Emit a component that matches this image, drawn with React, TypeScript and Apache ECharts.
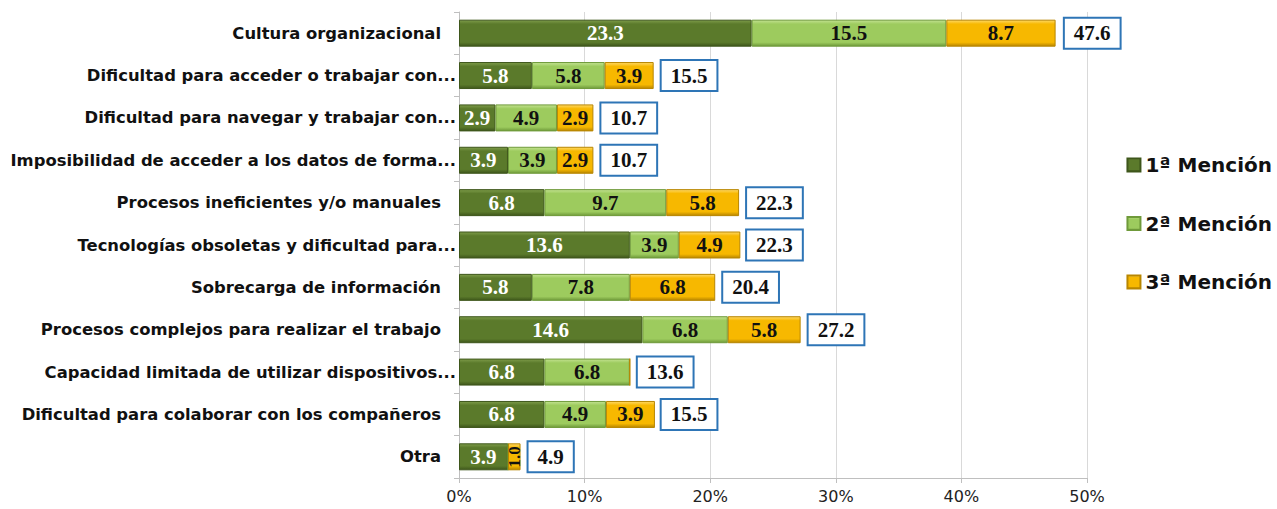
import React, { useEffect, useRef } from "react";
import * as echarts from "echarts";

const categories = [
  "Cultura organizacional",
  "Dificultad para acceder o trabajar con...",
  "Dificultad para navegar y trabajar con...",
  "Imposibilidad de acceder a los datos de forma...",
  "Procesos ineficientes y/o manuales",
  "Tecnologías obsoletas y dificultad para...",
  "Sobrecarga de información",
  "Procesos complejos para realizar el trabajo",
  "Capacidad limitada de utilizar dispositivos...",
  "Dificultad para colaborar con los compañeros",
  "Otra",
];
const mencion1 = [23.3, 5.8, 2.9, 3.9, 6.8, 13.6, 5.8, 14.6, 6.8, 6.8, 3.9];
const mencion2 = [15.5, 5.8, 4.9, 3.9, 9.7, 3.9, 7.8, 6.8, 6.8, 4.9, 0];
const mencion3 = [8.7, 3.9, 2.9, 2.9, 5.8, 4.9, 6.8, 5.8, 0, 3.9, 1.0];
const totals = [47.6, 15.5, 10.7, 10.7, 22.3, 22.3, 20.4, 27.2, 13.6, 15.5, 4.9];
const xTicks = [0, 10, 20, 30, 40, 50];

const grad = (light: string, base: string, dark: string) =>
  new echarts.graphic.LinearGradient(0, 0, 0, 1, [
    { offset: 0, color: light },
    { offset: 0.15, color: base },
    { offset: 0.85, color: base },
    { offset: 1, color: dark },
  ]);

export default function App() {
  const ref = useRef<HTMLDivElement>(null);
  useEffect(() => {
    document.body.style.margin = "0";
    if (!ref.current) return;
    const chart = echarts.init(ref.current, undefined, { renderer: "svg" });
    const serifLabel = {
      fontFamily: "Liberation Serif",
      fontWeight: "bold" as const,
      fontSize: 21,
    };
    const mk = (
      name: string,
      data: number[],
      colors: [string, string, string],
      textColor: string
    ) => ({
      name,
      type: "bar",
      stack: "s",
      barWidth: 27,
      barGap: "-100%",
      data: data.map((v, i) => {
        const item: any = { value: v };
        if (name === "3ª Mención" && categories[i] === "Otra") {
          item.label = { rotate: 90, fontSize: 17 };
        }
        return item;
      }),
      itemStyle: {
        color: grad(colors[0], colors[1], colors[2]),
        borderColor: colors[2],
        borderWidth: 1,
      },
      label: {
        show: true,
        position: "inside",
        color: textColor,
        ...serifLabel,
        formatter: (p: any) => (p.value > 0 ? p.value.toFixed(1) : ""),
      },
    });
    chart.setOption({
      animation: false,
      grid: { left: 459, right: 190, top: 12, bottom: 31, containLabel: false },
      legend: {
        data: ["1ª Mención", "2ª Mención", "3ª Mención"],
        orient: "vertical",
        right: 0,
        top: 150,
        itemGap: 38.5,
        itemWidth: 13,
        itemHeight: 13,
        icon: "rect",
        textStyle: {
          fontFamily: "DejaVu Sans",
          fontWeight: "bold",
          fontSize: 20,
          color: "#111",
        },
      },
      xAxis: {
        type: "value",
        min: 0,
        max: 50,
        interval: 10,
        axisLabel: {
          formatter: (v: number) => (xTicks.includes(v) ? v + "%" : ""),
          fontFamily: "DejaVu Sans",
          fontSize: 16,
          color: "#222",
          margin: 10,
        },
        axisLine: { show: true, lineStyle: { color: "#bfbfbf" } },
        axisTick: { show: true, length: 5, lineStyle: { color: "#bfbfbf" } },
        splitLine: { show: true, lineStyle: { color: "#d9d9d9" } },
      },
      yAxis: {
        type: "category",
        inverse: true,
        data: categories,
        axisLine: { show: true, lineStyle: { color: "#bfbfbf" } },
        axisTick: { show: true, length: 5, inside: false, lineStyle: { color: "#bfbfbf" } },
        axisLabel: {
          margin: 3,
          formatter: (v: string) => (v.endsWith("...") ? `{e|${v}}` : `{n|${v}}`),
          rich: {
            e: {
              fontFamily: "DejaVu Sans",
              fontWeight: "bold",
              fontSize: 16.4,
              color: "#111",
            },
            n: {
              fontFamily: "DejaVu Sans",
              fontWeight: "bold",
              fontSize: 16.4,
              color: "#111",
              padding: [0, 15, 0, 0],
            },
          },
        },
      },
      series: [
        mk("1ª Mención", mencion1, ["#7e9c4a", "#5b7a2b", "#3e561b"], "#ffffff"),
        mk("2ª Mención", mencion2, ["#c3e291", "#9dcb5e", "#6f9a3a"], "#111111"),
        mk("3ª Mención", mencion3, ["#ffd966", "#f7b800", "#b88600"], "#111111"),
        {
          name: "Total",
          type: "bar",
          barWidth: 27,
          barGap: "-100%",
          z: 1,
          data: totals,
          itemStyle: { color: "rgba(0,0,0,0)" },
          label: {
            show: true,
            position: "right",
            distance: 8,
            color: "#111",
            ...serifLabel,
            backgroundColor: "#ffffff",
            borderColor: "#2e75b6",
            borderWidth: 2,
            padding: [5, 9, 3, 9],
            formatter: (p: any) => p.value.toFixed(1),
          },
        },
      ],
    });
    return () => chart.dispose();
  }, []);
  return <div ref={ref} style={{ width: 1277, height: 509 }} />;
}
